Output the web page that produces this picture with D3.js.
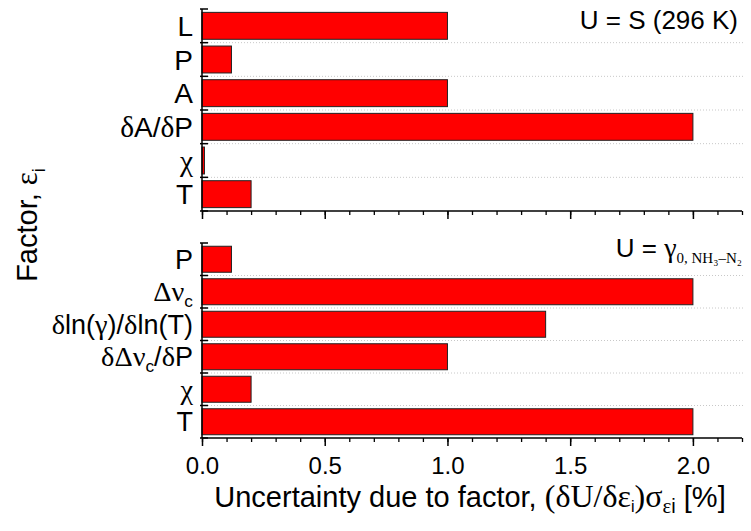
<!DOCTYPE html>
<html>
<head>
<meta charset="utf-8">
<script src="https://cdn.jsdelivr.net/npm/d3@7"></script>
<style>
  body { margin: 0; background: #fff; }
  svg { display: block; font-family: "Liberation Sans", Arial, sans-serif; }
</style>
</head>
<body>
<svg width="751" height="531"></svg>
<script>
// factors, top to bottom ("_" marks a subscript)
var topFactors = ["L", "P", "A", "δA/δP", "χ", "T"];
var topValues  = [1.0, 0.12, 1.0, 2.0, 0.01, 0.2];

var botFactors = ["P", "Δν_c", "δln(γ)/δln(T)", "δΔν_c/δP", "χ", "T"];
var botValues  = [0.12, 2.0, 1.4, 1.0, 0.2, 2.0];

var xMajor = [0, 0.5, 1.0, 1.5, 2.0];
var xMinor = d3.range(0, 23).map(function(i) { return i / 10; });

var svg = d3.select("svg");
var left = 202, right = 742;

var x = d3.scaleLinear().domain([0, 2.2]).range([left, right]);

var greek = /[α-ωΑ-Ω]/;

// write a label into a text node: greek letters in serif, "_c" as subscript
function richLabel(text, str, size) {
  var i = 0, shift = 0;
  while (i < str.length) {
    var ch = str[i];
    if (ch === "_") {
      shift = size * 0.22;
      text.append("tspan")
        .attr("font-size", size * 0.64)
        .attr("dy", shift)
        .text(str[i + 1]);
      i += 2;
      continue;
    }
    var t = text.append("tspan").text(ch);
    if (shift) { t.attr("dy", -shift); shift = 0; }
    if (greek.test(ch)) t.attr("font-family", "'Liberation Serif', 'Times New Roman', serif")
      .attr("font-size", size * 1.05);
    i++;
  }
}

function panel(factors, values, y0, y1, labelSize, showTickLabels) {
  var y = d3.scaleBand().domain(factors).range([y0, y1])
    .paddingInner(0.2).paddingOuter(0.1);
  var step = y.step();
  var bounds = d3.range(0, factors.length + 1).map(function(i) { return y0 + i * step; });

  // dotted grid lines at band boundaries
  svg.append("g").selectAll("line")
    .data(bounds.slice(1, -1))
    .enter().append("line")
    .attr("x1", left).attr("x2", right + 3)
    .attr("y1", function(d) { return d; }).attr("y2", function(d) { return d; })
    .attr("stroke", "#c8c8c8").attr("stroke-dasharray", "1,2");

  // bars
  svg.append("g").selectAll("rect")
    .data(factors)
    .enter().append("rect")
    .attr("x", x(0))
    .attr("y", function(d) { return y(d); })
    .attr("width", function(d, i) { return x(values[i]) - x(0); })
    .attr("height", y.bandwidth())
    .attr("fill", "#ff0000")
    .attr("stroke", "#222")
    .attr("stroke-width", 1);

  // y axis line and ticks
  svg.append("line")
    .attr("x1", left).attr("x2", left).attr("y1", y0).attr("y2", y1)
    .attr("stroke", "#000").attr("stroke-width", 1.5);
  svg.append("g").selectAll("line")
    .data(bounds)
    .enter().append("line")
    .attr("x1", left - 2).attr("x2", left + 6)
    .attr("y1", function(d) { return d; }).attr("y2", function(d) { return d; })
    .attr("stroke", "#000").attr("stroke-width", 1.5);

  // factor labels
  factors.forEach(function(f) {
    var t = svg.append("text")
      .attr("x", left - 9)
      .attr("y", y(f) + y.bandwidth() / 2)
      .attr("dy", "0.36em")
      .attr("text-anchor", "end")
      .attr("font-size", labelSize)
      .attr("fill", "#000");
    richLabel(t, f, labelSize);
  });

  // x axis
  var ax = svg.append("g").attr("transform", "translate(0," + y1 + ")");
  ax.call(d3.axisBottom(x).tickValues(xMinor).tickSize(4).tickFormat(""));
  ax.call(function(g) {
    g.select(".domain").attr("stroke-width", 1.5).attr("d", "M" + left + ",0H" + right);
    g.selectAll(".tick line").attr("stroke-width", 1.3);
    g.selectAll(".tick text").remove();
  });
  var mj = svg.append("g").attr("transform", "translate(0," + y1 + ")");
  mj.call(d3.axisBottom(x).tickValues(xMajor).tickSize(8).tickPadding(11)
    .tickFormat(d3.format(".1f")));
  mj.select(".domain").remove();
  mj.selectAll(".tick line").attr("stroke-width", 1.5);
  if (showTickLabels) {
    mj.selectAll(".tick text").attr("font-size", 24)
      .attr("font-family", "'Liberation Sans', Arial, sans-serif").attr("fill", "#000");
  } else {
    mj.selectAll(".tick text").remove();
  }
}

panel(topFactors, topValues, 9, 211, 28, false);
panel(botFactors, botValues, 243, 438, 27, true);

// panel annotations
svg.append("text")
  .attr("x", 738).attr("y", 29)
  .attr("text-anchor", "end").attr("font-size", 26)
  .text("U = S (296 K)");

var ann = svg.append("text")
  .attr("x", 742).attr("y", 257)
  .attr("text-anchor", "end").attr("font-size", 26);
ann.append("tspan").text("U = ");
ann.append("tspan").attr("font-family", "'Liberation Serif', serif").attr("font-size", 28).text("γ");
ann.append("tspan").attr("font-family", "'Liberation Serif', serif").attr("font-size", 15)
  .attr("dy", 6).text("0, NH\u2083\u2013N\u2082");

// y axis title
var yt = svg.append("text")
  .attr("transform", "translate(37,225) rotate(-90)")
  .attr("text-anchor", "middle").attr("font-size", 29);
yt.append("tspan").text("Factor, ");
yt.append("tspan").attr("font-family", "'Liberation Serif', serif").attr("font-size", 31).text("ε");
yt.append("tspan").attr("font-size", 18).attr("dy", 8).text("i");

// x axis title
var xt = svg.append("text")
  .attr("x", 470).attr("y", 507)
  .attr("text-anchor", "middle").attr("font-size", 29);
xt.append("tspan").text("Uncertainty due to factor, ");
xt.append("tspan").attr("font-family", "'Liberation Serif', serif").attr("font-size", 32).text("(δU/δε");
xt.append("tspan").attr("font-size", 16).attr("dy", 5).text("i");
xt.append("tspan").attr("font-family", "'Liberation Serif', serif").attr("font-size", 32).attr("dy", -5).text(")σ");
xt.append("tspan").attr("font-family", "'Liberation Serif', serif").attr("font-size", 21).attr("dy", 6).text("ε");
xt.append("tspan").attr("font-size", 20).text("i");
xt.append("tspan").attr("dy", -6).text(" [%]");
</script>
</body>
</html>
